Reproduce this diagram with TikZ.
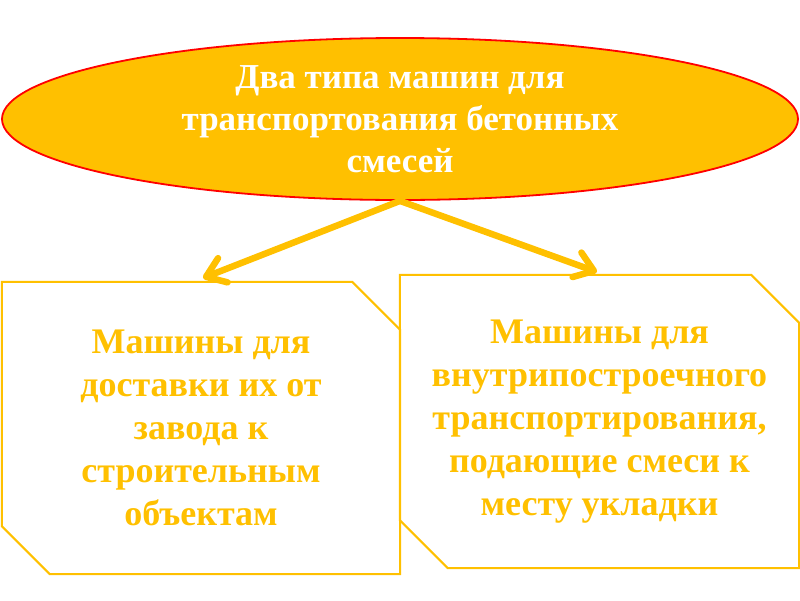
\documentclass[tikz,border=0pt]{standalone}
\usepackage{fontspec}
\setmainfont{Liberation Serif}
\usetikzlibrary{shapes.geometric,arrows.meta}
\definecolor{gold}{HTML}{FFC000}
\begin{document}
\begin{tikzpicture}[x=1pt,y=-1pt,
  topnode/.style={ellipse, fill=gold, draw=red, line width=1.8pt, minimum width=796pt, minimum height=162pt, inner sep=0pt,
    font=\fontsize{35}{42}\selectfont\bfseries, text=white, align=center},
  boxnode/.style={rectangle, inner sep=0pt, font=\fontsize{36}{43}\selectfont\bfseries, text=gold, align=center},
  boxline/.style={draw=gold, line width=2pt, line join=miter},
  link/.style={draw=gold, line width=6.5pt, line cap=round, -{Straight Barb[length=18pt,width=26pt,round]}}]
\useasboundingbox (0,0) rectangle (800,600);
\node[topnode] (top) at (400,119) {Два типа машин для\\транспортования бетонных\\смесей};
\node[boxnode, minimum width=398pt, minimum height=292pt] (lbox) at (201,428) {Машины для\\доставки их от\\завода к\\строительным\\объектам};
\node[boxnode, minimum width=399pt, minimum height=293pt] (rbox) at (599.5,421.5) {Машины для\\внутрипостроечного\\транспортирования,\\подающие смеси к\\месту укладки};
\draw[boxline] (lbox.north west) -- ([xshift=-48pt]lbox.north east) -- ([yshift=-48pt]lbox.north east) -- (lbox.south east) -- ([xshift=48pt]lbox.south west) -- ([yshift=48pt]lbox.south west) -- cycle;
\draw[boxline] (rbox.north west) -- ([xshift=-48pt]rbox.north east) -- ([yshift=-48pt]rbox.north east) -- (rbox.south east) -- ([xshift=48pt]rbox.south west) -- ([yshift=48pt]rbox.south west) -- cycle;
\coordinate (lt) at (203,278);
\coordinate (rt) at (597,272);
\draw[link] (top.south) -- (lt);
\draw[link] (top.south) -- (rt);
\end{tikzpicture}
\end{document}
